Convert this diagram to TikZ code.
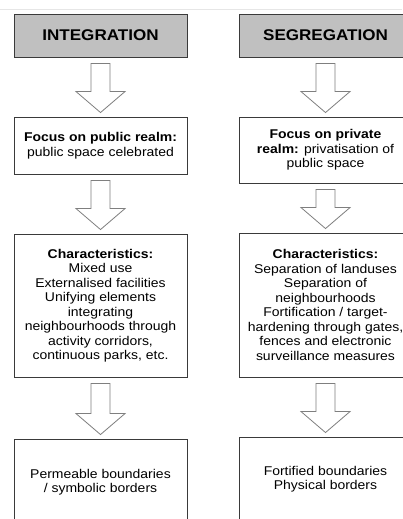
\documentclass[tikz,border=0pt]{standalone}
\usepackage{fontspec}
\setmainfont{Liberation Sans}[FakeStretch=1.1]
\usetikzlibrary{calc}
\definecolor{headgray}{HTML}{C0C0C0}
\definecolor{edgegray}{HTML}{3A3A3A}
\definecolor{arrowgray}{HTML}{7F7F7F}
\definecolor{rulegray}{HTML}{E6E6E6}

% hollow block arrow from the bottom of one box to the top of the next
\newcommand{\flowarrow}[2]{%
  \draw[blockarrow] let \p1=(#1.south), \p2=(#2.north),
      \n1={\y1-6pt}, \n2={\y2+4pt}, \n3={\y2+25pt} in
    (\x1-9.5pt,\n1) -- (\x1+9.5pt,\n1) -- (\x1+9.5pt,\n3) -- (\x1+24.5pt,\n3)
    -- (\x1,\n2) -- (\x1-24.5pt,\n3) -- (\x1-9.5pt,\n3) -- cycle;}

\begin{document}
\begin{tikzpicture}[x=1pt,y=1pt,
  box/.style={draw=edgegray, line width=0.9pt, fill=white, minimum width=173pt,
    inner sep=0pt, align=center, font=\fontsize{12.7}{14.5}\selectfont},
  headbox/.style={box, fill=headgray, minimum height=43pt,
    font=\fontsize{15.5}{17}\selectfont\bfseries},
  blockarrow/.style={draw=arrowgray, line width=0.8pt, fill=white, line join=miter}]
\useasboundingbox (0,0) rectangle (402,519);
\fill[white] (0,0) rectangle (402,519);
\draw[rulegray, line width=0.8pt] (0,510) -- (402,510);

% left column
\node[headbox] (intH) at (100.5,483.5) {INTEGRATION};
\node[box, minimum height=57pt] (pubL) at (100.5,373.5)
  {\textbf{Focus on public realm:}\\public space celebrated};
\node[box, minimum height=143pt] (charL) at (100.5,213.5)
  {\textbf{Characteristics:}\\Mixed use\\Externalised facilities\\Unifying elements\\integrating\\neighbourhoods through\\activity corridors,\\continuous parks, etc.};
\node[box, minimum height=86pt] (bordL) at (100.5,37)
  {Permeable boundaries\\/ symbolic borders};

% right column
\node[headbox] (segH) at (325.5,483.5) {SEGREGATION};
\node[box, minimum height=66pt] (priR) at (325.5,369)
  {\textbf{Focus on private}\\\textbf{realm:} privatisation of\\public space};
\node[box, minimum height=144pt] (charR) at (325.5,214)
  {\textbf{Characteristics:}\\Separation of landuses\\Separation of\\neighbourhoods\\Fortification / target-\\hardening through gates,\\fences and electronic\\surveillance measures};
\node[box, minimum height=84pt] (bordR) at (325.5,40)
  {Fortified boundaries\\Physical borders};

% connectors
\flowarrow{intH}{pubL}
\flowarrow{pubL}{charL}
\flowarrow{charL}{bordL}
\flowarrow{segH}{priR}
\flowarrow{priR}{charR}
\flowarrow{charR}{bordR}
\end{tikzpicture}
\end{document}
